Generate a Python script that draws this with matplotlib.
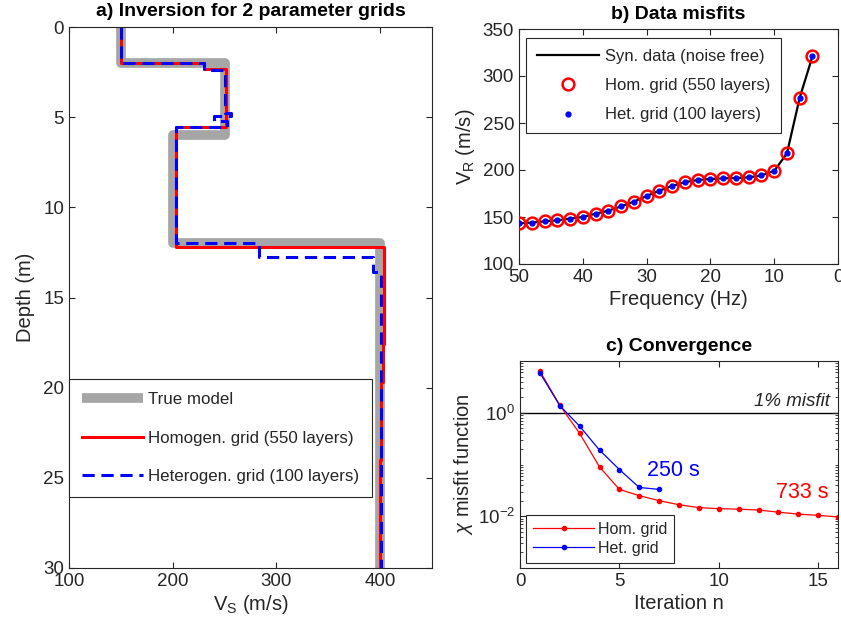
import numpy as np
import matplotlib
matplotlib.use("Agg")
import matplotlib.pyplot as plt
from matplotlib.ticker import LogLocator, NullFormatter, FixedLocator

plt.rcParams['font.family'] = ['Liberation Sans', 'DejaVu Sans']
plt.rcParams['mathtext.fontset'] = 'custom'
plt.rcParams['mathtext.rm'] = 'Liberation Sans'
plt.rcParams['mathtext.it'] = 'Liberation Sans:italic'

TXT = '#262626'

# ---- a) layered Vs models: layer top depth (m) and Vs (m/s) ----
model_bottom = 30.0
true_tops = [0.0, 2.0, 6.0, 12.0]
true_vs = [150, 250, 200, 400]

hom_tops = [0.0, 1.97, 2.35, 5.57, 12.18, 17.6, 19.7, 24.0]
hom_vs = [150, 230, 251, 203, 404, 402.6, 401.3, 400]

het_tops = [0.0, 1.97, 2.37, 4.75, 4.95, 5.2, 5.57, 12.0, 12.76, 13.6]
het_vs = [150, 230, 250, 256, 240, 252, 203.5, 283, 393.5, 401]

# ---- b) dispersion curves ----
freq_hz = [50, 48, 46, 44, 42, 40, 38, 36, 34, 32, 30, 28, 26, 24, 22, 20,
           18, 16, 14, 12, 10, 8, 6, 4]
vr_syn = [143.3, 144.0, 145.4, 146.5, 148.2, 150.0, 153.5, 156.7, 161.3, 166.3,
          172.3, 178.0, 183.0, 187.0, 189.4, 190.4, 191.1, 191.5, 192.2, 194.3,
          199.0, 217.7, 277.0, 321.0]
vr_hom = list(vr_syn)
vr_het = list(vr_syn)

# ---- c) convergence ----
iter_hom = list(range(1, 17))
misfit_hom = [6.4, 1.4, 0.40, 0.090, 0.033, 0.025, 0.020, 0.0167, 0.0147, 0.0140,
              0.0137, 0.0132, 0.0120, 0.0110, 0.0104, 0.0097]
iter_het = list(range(1, 8))
misfit_het = [5.9, 1.38, 0.55, 0.19, 0.080, 0.036, 0.033]
misfit_target = 1.0


def step_profile(tops, vs, bottom):
    """Turn layer tops/velocities into a staircase (vs, depth) path."""
    edges = list(tops[1:]) + [bottom]
    d, v = [], []
    for top, bot, val in zip(tops, edges, vs):
        d += [top, bot]
        v += [val, val]
    return np.array(v), np.array(d)


def style_axes(ax):
    for s in ax.spines.values():
        s.set_color(TXT)
        s.set_linewidth(0.8)
    ax.tick_params(direction='in', top=True, right=True, length=4, width=0.8,
                   colors=TXT, labelsize=13.5, labelcolor=TXT)
    ax.tick_params(which='minor', direction='in', top=True, right=True,
                   length=2, width=0.6, colors=TXT)


def finish_legend(leg):
    leg.get_frame().set_linewidth(0.8)
    for t in leg.get_texts():
        t.set_color(TXT)


fig = plt.figure(figsize=(8.41, 6.27), dpi=100)

# ---------------- a) ----------------
axa = fig.add_axes([69 / 841, 59 / 627, 363 / 841, 541 / 627])
v, d = step_profile(true_tops, true_vs, model_bottom)
axa.plot(v, d, color='#a6a6a6', lw=7, solid_joinstyle='round',
         solid_capstyle='butt', label='True model')
v, d = step_profile(hom_tops, hom_vs, model_bottom)
axa.plot(v, d, color='red', lw=2.2, label='Homogen. grid (550 layers)')
v, d = step_profile(het_tops, het_vs, model_bottom)
axa.plot(v, d, color='blue', lw=2.2, ls=(0, (4, 2.2)),
         label='Heterogen. grid (100 layers)')
axa.set_xlim(100, 450)
axa.set_ylim(30, 0)
axa.set_xticks([100, 200, 300, 400])
axa.set_yticks([0, 5, 10, 15, 20, 25, 30])
style_axes(axa)
axa.set_xlabel(r'V$_\mathregular{S}$ (m/s)', fontsize=14.5, color=TXT, labelpad=2)
axa.set_ylabel('Depth (m)', fontsize=14.5, color=TXT, labelpad=6)
axa.set_title('a) Inversion for 2 parameter grids', fontsize=14, fontweight='bold',
              pad=8)
lega = axa.legend(loc='upper left', bbox_to_anchor=(0.0, 0.349), borderaxespad=0,
                  fontsize=12.2, frameon=True, fancybox=False, edgecolor=TXT,
                  framealpha=1, handlelength=3.6, handletextpad=0.3,
                  labelspacing=1.4, borderpad=0.75)
finish_legend(lega)

# ---------------- b) ----------------
axb = fig.add_axes([519 / 841, 363 / 627, 319 / 841, 235 / 627])
axb.plot(freq_hz, vr_syn, color='black', lw=1.6, label='Syn. data (noise free)',
         zorder=2)
axb.plot(freq_hz, vr_hom, ls='none', marker='o', ms=8.5, mfc='none', mec='red',
         mew=1.8, label='Hom. grid (550 layers)', zorder=3)
axb.plot(freq_hz, vr_het, ls='none', marker='o', ms=3.5, mfc='blue', mec='blue',
         label='Het. grid (100 layers)', zorder=4)
axb.set_xlim(50, 0)
axb.set_ylim(100, 350)
axb.set_xticks([50, 40, 30, 20, 10, 0])
axb.set_yticks([100, 150, 200, 250, 300, 350])
style_axes(axb)
axb.set_xlabel('Frequency (Hz)', fontsize=14.5, color=TXT, labelpad=3)
axb.set_ylabel(r'V$_\mathregular{R}$ (m/s)', fontsize=14.5, color=TXT, labelpad=4)
axb.set_title('b) Data misfits', fontsize=14, fontweight='bold', pad=7)
legb = axb.legend(loc='upper left', bbox_to_anchor=(0.022, 0.962), borderaxespad=0,
                  fontsize=12, frameon=True, fancybox=False, edgecolor=TXT,
                  framealpha=1, handlelength=3.7, handletextpad=0.4,
                  labelspacing=0.86, borderpad=0.65)
finish_legend(legb)

# ---------------- c) ----------------
axc = fig.add_axes([520 / 841, 59 / 627, 318 / 841, 207 / 627])
axc.axhline(misfit_target, color='black', lw=1.0, zorder=1)
axc.plot(iter_hom, misfit_hom, color='red', lw=0.9, marker='o', ms=3,
         label='Hom. grid')
axc.plot(iter_het, misfit_het, color='blue', lw=0.9, marker='o', ms=3,
         label='Het. grid')
axc.set_yscale('log')
axc.set_xlim(0, 16)
axc.set_ylim(1e-3, 1e1)
axc.set_xticks([0, 5, 10, 15])
axc.yaxis.set_major_locator(FixedLocator([1e-2, 1e0]))
axc.yaxis.set_minor_locator(LogLocator(base=10, subs=np.arange(1, 10) * 1.0,
                                       numticks=20))
axc.yaxis.set_minor_formatter(NullFormatter())
style_axes(axc)
axc.set_xlabel('Iteration n', fontsize=14.5, color=TXT, labelpad=3)
axc.set_ylabel(r'$\chi$ misfit function', fontsize=14.5, color=TXT, labelpad=2)
axc.set_title('c) Convergence', fontsize=14, fontweight='bold', pad=7)
axc.text(15.6, misfit_target * 1.12, '1% misfit', fontsize=13.5, style='italic',
         ha='right', va='bottom', color=TXT)
axc.text(7.7, 0.077, '250 s', fontsize=15.5, color='blue',
         ha='center', va='center')
axc.text(14.2, 0.029, '733 s', fontsize=15.5, color='red',
         ha='center', va='center')
legc = axc.legend(loc='lower left', bbox_to_anchor=(0.019, 0.024), borderaxespad=0,
                  fontsize=11.5, frameon=True, fancybox=False, edgecolor=TXT,
                  framealpha=1, handlelength=3.8, handletextpad=0.25,
                  labelspacing=0.26, borderpad=0.45)
finish_legend(legc)

fig.savefig('out.png', dpi=100)
